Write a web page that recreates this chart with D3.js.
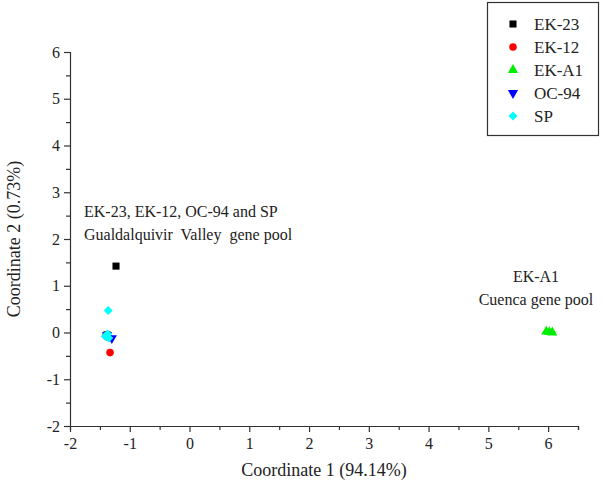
<!DOCTYPE html>
<html><head><meta charset="utf-8">
<script src="https://cdn.jsdelivr.net/npm/d3@7/dist/d3.min.js"></script>
<style>body{margin:0;background:#fff}svg{display:block}</style>
</head><body>
<script>
const seriesNames = ["EK-23", "EK-12", "EK-A1", "OC-94", "SP"];
const seriesColors = ["#000000", "#ff0000", "#00ee00", "#0000ff", "#00ffff"];
const seriesSymbols = ["square", "circle", "triangle", "triangleDown", "diamond"];
const ek23 = [[-1.23, 1.42], [-1.38, -0.05]];
const ek12 = [[-1.33, -0.43], [-1.40, -0.07]];
const ekA1 = [[5.97, 0.02], [6.02, 0.01], [6.07, 0.0]];
const oc94 = [[-1.30, -0.12], [-1.38, -0.06]];
const sp = [[-1.36, 0.47], [-1.41, -0.08], [-1.37, -0.03], [-1.35, -0.12]];
const seriesData = [ek23, ek12, ekA1, oc94, sp];
const xTicks = [-2, -1, 0, 1, 2, 3, 4, 5, 6];
const yTicks = [-2, -1, 0, 1, 2, 3, 4, 5, 6];
const xTitle = "Coordinate 1 (94.14%)";
const yTitle = "Coordinate 2 (0.73%)";
const annot1 = ["EK-23, EK-12, OC-94 and SP", "Gualdalquivir  Valley  gene pool"];
const annot2 = ["EK-A1", "Cuenca gene pool"];

const W = 602, H = 488;
const svg = d3.select("body").append("svg").attr("width", W).attr("height", H);
const font = "'Liberation Serif', 'Times New Roman', serif";
const x = d3.scaleLinear().domain([-2, 6.5]).range([70, 578]);
const y = d3.scaleLinear().domain([-2, 6]).range([426, 52]);
const axisColor = "#333";
const fmt = d => String(d);

// X axis
const gx = svg.append("g").attr("transform", `translate(0,${y(-2)})`);
gx.call(d3.axisBottom(x).tickValues(d3.range(-2, 6.51, 0.5)).tickSize(4).tickFormat(""));
gx.call(g => g.selectAll(".tick line").attr("y2", d => Number.isInteger(d) ? 6 : 4));
const gx2 = svg.append("g").attr("transform", `translate(0,${y(-2)})`);
gx2.call(d3.axisBottom(x).tickValues(xTicks).tickSize(0).tickPadding(12).tickFormat(fmt));
gx2.select(".domain").remove();
[gx, gx2].forEach(g => {
  g.attr("font-family", font);
  g.select(".domain").attr("stroke", axisColor).attr("stroke-width", 1.2);
  g.selectAll("line").attr("stroke", axisColor).attr("stroke-width", 1.2);
  g.selectAll("text").attr("font-family", font).attr("font-size", 16).attr("fill", "#222");
});

// Y axis
const gy = svg.append("g").attr("transform", `translate(${x(-2)},0)`);
gy.call(d3.axisLeft(y).tickValues(d3.range(-2, 6.01, 0.5)).tickSize(4).tickFormat(""));
gy.call(g => g.selectAll(".tick line").attr("x2", d => Number.isInteger(d) ? -6 : -4));
const gy2 = svg.append("g").attr("transform", `translate(${x(-2)},0)`);
gy2.call(d3.axisLeft(y).tickValues(yTicks).tickSize(0).tickPadding(10).tickFormat(fmt));
gy2.select(".domain").remove();
[gy, gy2].forEach(g => {
  g.attr("font-family", font);
  g.select(".domain").attr("stroke", axisColor).attr("stroke-width", 1.2);
  g.selectAll("line").attr("stroke", axisColor).attr("stroke-width", 1.2);
  g.selectAll("text").attr("font-family", font).attr("font-size", 16).attr("fill", "#222");
});

// Titles
svg.append("text").attr("x", (x(-2) + x(6.5)) / 2).attr("y", 476)
  .attr("text-anchor", "middle").attr("font-family", font).attr("font-size", 18).attr("fill", "#222").text(xTitle);
svg.append("text").attr("transform", `translate(20,${(y(-2) + y(6)) / 2}) rotate(-90)`)
  .attr("text-anchor", "middle").attr("font-family", font).attr("font-size", 18).attr("fill", "#222").text(yTitle);

// Symbols
const symMap = {
  square: d3.symbolSquare, circle: d3.symbolCircle, triangle: d3.symbolTriangle,
  diamond: d3.symbolSquare
};
const symSize = {square: 50, circle: 45, triangle: 45, triangleDown: 45, diamond: 40};
function symPath(s) {
  if (s === "triangleDown") return d3.symbol(d3.symbolTriangle, symSize[s])();
  return d3.symbol(symMap[s], symSize[s])();
}
function symTransform(s, px, py) {
  if (s === "triangleDown") return `translate(${px},${py}) rotate(180)`;
  if (s === "diamond") return `translate(${px},${py}) rotate(45)`;
  return `translate(${px},${py})`;
}

seriesData.forEach((data, i) => {
  svg.append("g").selectAll("path").data(data).join("path")
    .attr("d", symPath(seriesSymbols[i]))
    .attr("transform", d => symTransform(seriesSymbols[i], x(d[0]), y(d[1])))
    .attr("fill", seriesColors[i]);
});

// Annotations
svg.append("text").attr("font-family", font).attr("font-size", 16).attr("fill", "#222")
  .style("white-space", "pre")
  .selectAll("tspan").data(annot1).join("tspan")
  .attr("x", 84).attr("y", (d, i) => 217 + i * 23).text(d => d);
svg.append("text").attr("font-family", font).attr("font-size", 16).attr("fill", "#222")
  .attr("text-anchor", "middle")
  .selectAll("tspan").data(annot2).join("tspan")
  .attr("x", 536).attr("y", (d, i) => 282 + i * 23).text(d => d);

// Legend
const lg = svg.append("g");
lg.append("rect").attr("x", 487.5).attr("y", 2.5).attr("width", 111).attr("height", 133)
  .attr("fill", "#fff").attr("stroke", "#333").attr("stroke-width", 1.2);
seriesNames.forEach((n, i) => {
  const ly = 24 + i * 23;
  lg.append("path").attr("d", symPath(seriesSymbols[i]))
    .attr("transform", symTransform(seriesSymbols[i], 513, ly)).attr("fill", seriesColors[i]);
  lg.append("text").attr("x", 534).attr("y", ly + 6).attr("font-family", font)
    .attr("font-size", 17).attr("fill", "#222").text(n);
});
</script>
</body></html>
